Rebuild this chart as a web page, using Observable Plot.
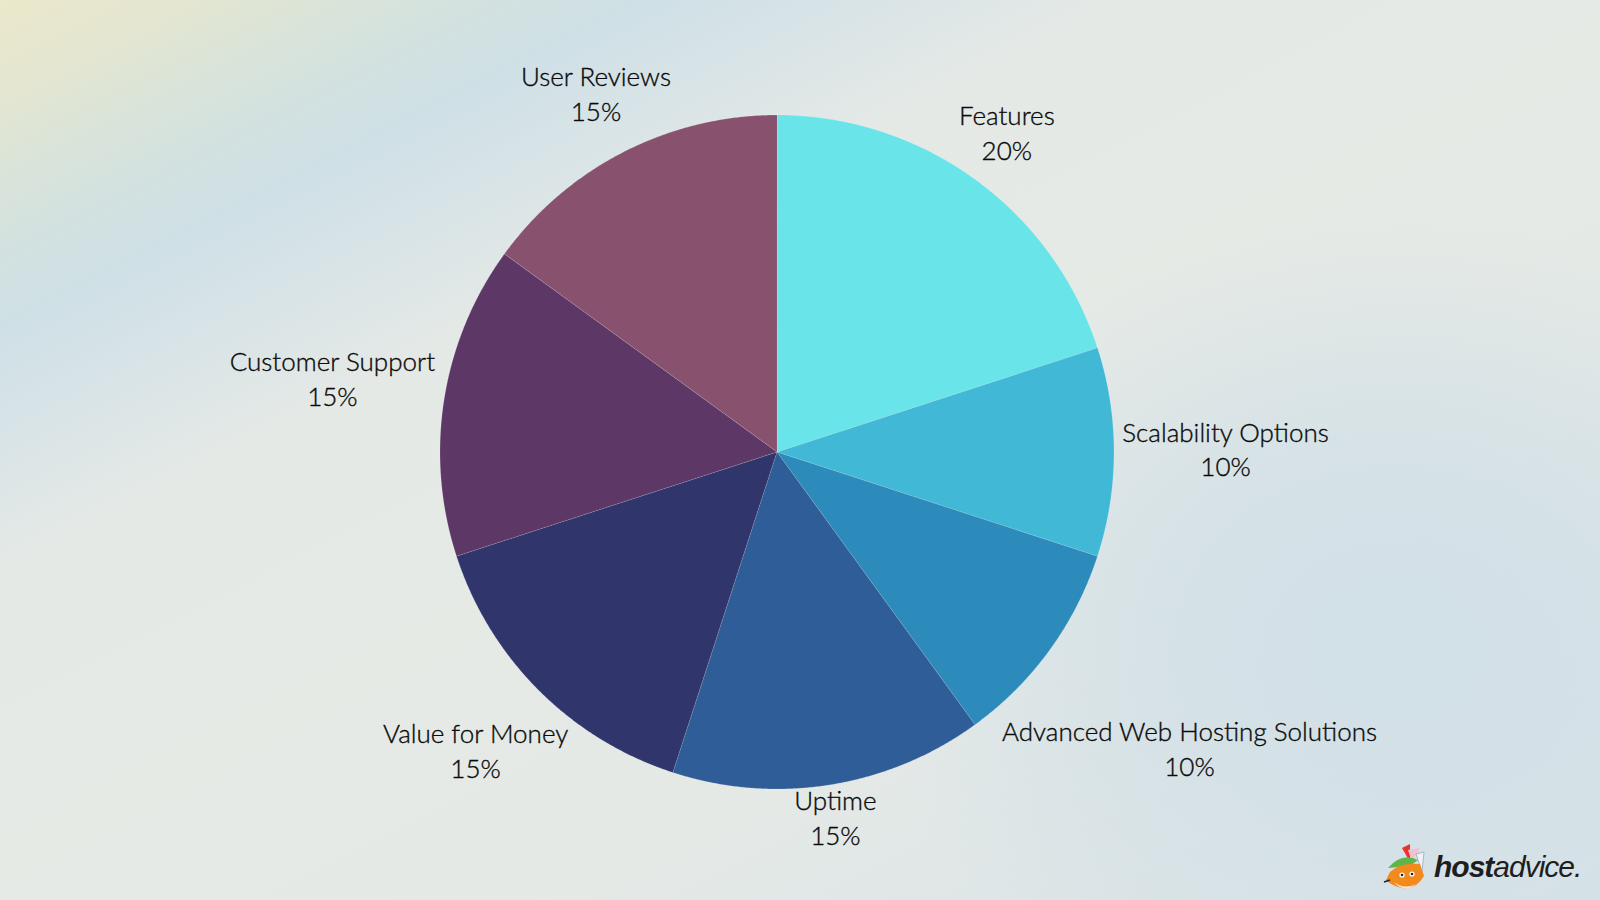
<!DOCTYPE html>
<html>
<head>
<meta charset="utf-8">
<script src="https://cdn.jsdelivr.net/npm/d3@7"></script>
<script src="https://cdn.jsdelivr.net/npm/@observablehq/plot@0.6"></script>
<style>
  html, body { margin: 0; padding: 0; }
  #wrap {
    position: relative; width: 1600px; height: 900px; overflow: hidden;
    background:
      radial-gradient(ellipse 520px 420px at 1390px 640px, rgba(210,224,231,1) 0%, rgba(210,224,231,0.85) 40%, rgba(210,224,231,0) 100%),
      linear-gradient(153deg, #ebe8cb 0%, #e5e6d0 5%, #dae4d8 10%, #d2e1e0 15%, #cfe0e6 19.5%, #d9e4e7 26%, #e4e9e6 33%, #e6eae5 50%, #e4e9e6 70%, #d7e2e6 100%);
    font-family: Lato, "Noto Sans", sans-serif;
  }
  #chart { position: absolute; left: 0; top: 0; }
  #logo { position: absolute; left: 1380px; top: 842px; display: flex; align-items: center; }
  #logo .word { font-family: "Liberation Sans", Arial, sans-serif; font-style: italic; font-size: 30px; color: #1e1e1e; letter-spacing: -1px; margin-left: 4px; }
  #logo .word b { font-weight: 700; }
</style>
</head>
<body>
<div id="wrap">
  <div id="chart"></div>
  <div id="logo">
    <svg width="50" height="50" viewBox="0 0 50 50">
      <path d="M22 6 L30 2 L30 20 Z" fill="#e8342c"/>
      <path d="M28 8 L40 6 L32 20 Z" fill="#f3c0d0"/>
      <path d="M36 12 L44 10 L42 30 Z" fill="#eef2f6" stroke="#9ab" stroke-width="0.8"/>
      <path d="M8 26 Q22 10 38 18 L30 24 Z" fill="#5fb54a"/>
      <path d="M10 30 Q20 20 40 22 L44 34 Q36 48 22 46 Q12 44 6 38 Z" fill="#f28a1e"/>
      <path d="M14 40 Q24 48 36 42 L30 46 Q20 48 14 40 Z" fill="#fde7c8"/>
      <circle cx="22" cy="33" r="2.6" fill="#fff"/><circle cx="22" cy="33" r="1.3" fill="#222"/>
      <circle cx="32" cy="32" r="2.6" fill="#fff"/><circle cx="32" cy="32" r="1.3" fill="#222"/>
      <path d="M4 40 L10 38" stroke="#222" stroke-width="1.5"/>
    </svg>
    <span class="word"><b>host</b>advice.</span>
  </div>
</div>
<script>
// ---- data ----
const categories = ["Features", "Scalability Options", "Advanced Web Hosting Solutions", "Uptime", "Value for Money", "Customer Support", "User Reviews"];
const shares = [20, 10, 10, 15, 15, 15, 15];
const colors = ["#69e4e8", "#42b8d7", "#2c8bba", "#2e5d97", "#30356c", "#5d3766", "#88526e"];

// ---- layout ----
const W = 1600, H = 900;
const cx = 776.5, cy = 451.5, R = 337;
const fontSize = 26, lineH = 1.335, gap = 8, halfH = 22, dy = -4;
const FAMILY = 'Lato, "Noto Sans", sans-serif';
const WEIGHT = 300;

const data = categories.map((name, i) => ({name, value: shares[i]}));
const arcs = d3.pie().value(d => d.value).sort(null)(data);

// pixel-space polygons for each slice (angles clockwise from 12 o'clock)
function pt(a, r) { return [cx + r * Math.sin(a), cy - r * Math.cos(a)]; }
const features = arcs.map(a => {
  const n = Math.max(2, Math.ceil((a.endAngle - a.startAngle) / 0.005));
  const ring = [[cx, cy]];
  for (let k = 0; k <= n; k++) ring.push(pt(a.startAngle + (a.endAngle - a.startAngle) * k / n, R));
  ring.push([cx, cy]);
  return {type: "Feature", properties: {name: a.data.name}, geometry: {type: "Polygon", coordinates: [ring]}};
});

// label placement: block centre along the mid angle, just outside the rim
const ctx = document.createElement("canvas").getContext("2d");
ctx.font = `${WEIGHT} ${fontSize}px ${FAMILY}`;
const labels = arcs.map(a => {
  const mid = (a.startAngle + a.endAngle) / 2;
  const pct = `${a.data.value}%`;
  const w = Math.max(ctx.measureText(a.data.name).width, ctx.measureText(pct).width);
  const ext = Math.abs(Math.sin(mid)) * w / 2 + Math.abs(Math.cos(mid)) * halfH;
  const [x, y] = pt(mid, R + gap + ext);
  return {x, y: y + dy, text: `${a.data.name}\n${pct}`};
});

const frame = {type: "Feature", geometry: {type: "Polygon", coordinates: [[[0,0],[W,0],[W,H],[0,H],[0,0]]]}};

const chart = Plot.plot({
  width: W, height: H,
  margin: 0,
  style: {background: "transparent", overflow: "visible"},
  projection: {type: "identity", domain: frame},
  color: {domain: categories, range: colors},
  marks: [
    Plot.geo(features, {fill: d => d.properties.name, stroke: "#ffffff", strokeOpacity: 0.25, strokeWidth: 0.6}),
    Plot.text(labels, {x: "x", y: "y", text: "text", fontSize, lineHeight: lineH, fill: "#0a0a0a",
      fontFamily: FAMILY, fontWeight: WEIGHT, textAnchor: "middle", stroke: "#0a0a0a", strokeWidth: 0.35})
  ]
});
document.getElementById("chart").appendChild(chart);
</script>
</body>
</html>
